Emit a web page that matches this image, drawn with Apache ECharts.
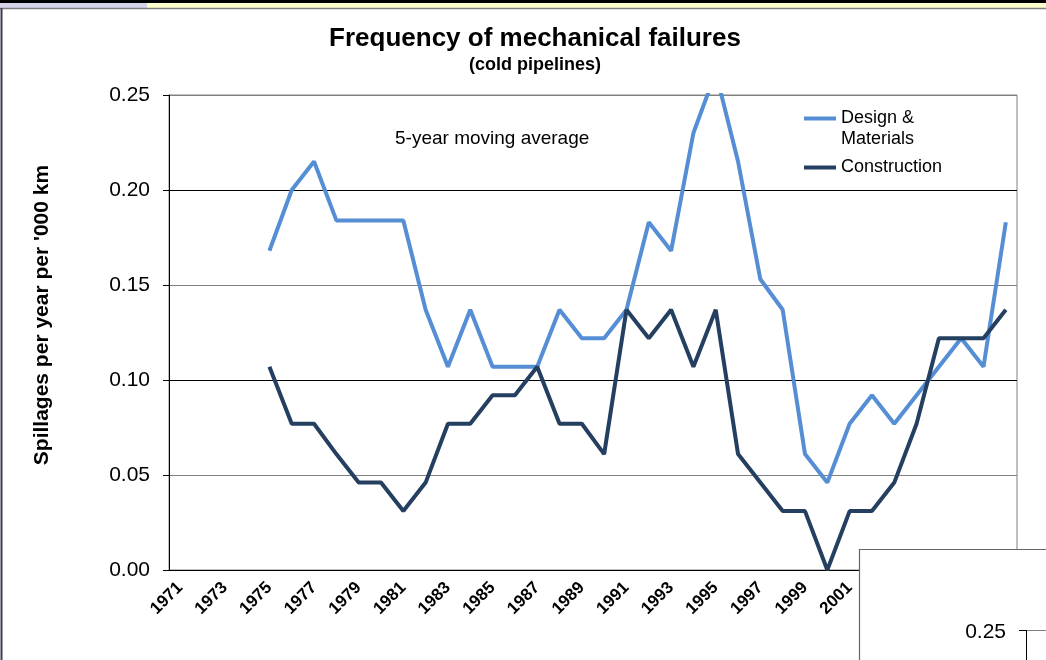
<!DOCTYPE html>
<html>
<head>
<meta charset="utf-8">
<title>Frequency of mechanical failures</title>
<script src="https://cdn.jsdelivr.net/npm/echarts@6/dist/echarts.min.js"></script>
<style>
  html, body { margin: 0; padding: 0; background: #fff; }
  #chart { width: 1046px; height: 660px; }
</style>
</head>
<body>
<div id="chart"></div>
<script>
// years on the x axis (1971 .. 2008)
var years = [];
for (var y = 1971; y <= 2008; y++) years.push(String(y));

// 5-year moving averages (null = no value yet)
var designMaterials = [
  null, null, null, null,
  0.168, 0.200, 0.215, 0.184, 0.184, 0.184, 0.184, 0.137, 0.107, 0.137,
  0.107, 0.107, 0.107, 0.137, 0.122, 0.122, 0.137, 0.183, 0.168, 0.230,
  0.262, 0.215, 0.153, 0.137, 0.061, 0.046, 0.077, 0.092, 0.077, 0.092,
  0.107, 0.122, 0.107, 0.183
];
var construction = [
  null, null, null, null,
  0.107, 0.077, 0.077, 0.061, 0.046, 0.046, 0.031, 0.046, 0.077, 0.077,
  0.092, 0.092, 0.107, 0.077, 0.077, 0.061, 0.137, 0.122, 0.137, 0.107,
  0.137, 0.061, 0.046, 0.031, 0.031, 0.000, 0.031, 0.031, 0.046, 0.077,
  0.122, 0.122, 0.122, 0.137
];
var yTicks = [0, 0.05, 0.10, 0.15, 0.20, 0.25];

var FONT = '"Liberation Sans", Arial, sans-serif';

var chart = echarts.init(document.getElementById('chart'));

chart.setOption({
  backgroundColor: '#fff',
  animation: false,
  title: {
    text: 'Frequency of mechanical failures',
    subtext: '(cold pipelines)',
    left: 530,
    textAlign: 'center',
    top: 21,
    itemGap: 4,
    textStyle: { fontFamily: FONT, fontSize: 26, fontWeight: 'bold', color: '#000' },
    subtextStyle: { fontFamily: FONT, fontSize: 18, fontWeight: 'bold', color: '#000' }
  },
  legend: {
    orient: 'vertical',
    left: 804,
    top: 87,
    padding: 0,
    itemWidth: 32,
    itemHeight: 4,
    itemGap: 7,
    icon: 'rect',
    selectedMode: false,
    textStyle: { fontFamily: FONT, fontSize: 18, color: '#000', lineHeight: 21 },
    formatter: function (name) {
      // leading empty line keeps the line symbol level with "Design &"
      return name === 'Design & Materials' ? '\nDesign &\nMaterials' : name;
    },
    data: ['Design & Materials', 'Construction']
  },
  grid: { left: 169, top: 95, right: 29, bottom: 90, show: true, borderColor: '#808080', borderWidth: 1 },
  xAxis: {
    type: 'category',
    data: years,
    boundaryGap: true,
    axisLine: { lineStyle: { color: '#000', width: 1 } },
    axisTick: { interval: 0, length: 5, lineStyle: { color: '#000' } },
    axisLabel: {
      interval: 1,
      rotate: 45,
      margin: 15,
      fontFamily: FONT,
      fontSize: 17,
      fontWeight: 'bold',
      color: '#000'
    },
    splitLine: { show: false }
  },
  yAxis: {
    type: 'value',
    min: yTicks[0],
    max: yTicks[yTicks.length - 1],
    interval: 0.05,
    axisLine: { show: true, lineStyle: { color: '#000', width: 1 } },
    axisTick: { show: true, length: 6, lineStyle: { color: '#000' } },
    axisLabel: {
      margin: 19,
      fontFamily: FONT,
      fontSize: 21,
      color: '#000',
      formatter: function (v) { return v.toFixed(2); }
    },
    splitLine: { show: true, lineStyle: { color: ['#000', '#808080'], width: 1 } }
  },
  series: [
    {
      name: 'Design & Materials',
      type: 'line',
      data: designMaterials,
      symbol: 'none',
      clip: true,
      color: '#558ed5',
      lineStyle: { width: 4, color: '#558ed5' },
      z: 3
    },
    {
      name: 'Construction',
      type: 'line',
      data: construction,
      symbol: 'none',
      clip: true,
      color: '#243f60',
      lineStyle: { width: 4, color: '#243f60' },
      z: 4
    }
  ],
  graphic: [
    {
      type: 'text',
      x: 42,
      y: 315,
      rotation: Math.PI / 2,
      style: {
        text: "Spillages per year per '000 km",
        fontFamily: FONT, fontSize: 21, fontWeight: 'bold', fill: '#000',
        align: 'center', verticalAlign: 'middle'
      }
    },
    {
      type: 'text',
      left: 395,
      top: 129,
      style: { text: '5-year moving average', fontFamily: FONT, fontSize: 19, fill: '#000' }
    },
    // window frame around the chart
    { type: 'rect', z: 100, shape: { x: 0, y: 0, width: 1046, height: 3 }, style: { fill: '#000' } },
    { type: 'rect', z: 100, shape: { x: 0, y: 3, width: 147, height: 5 }, style: { fill: '#d4d4ea' } },
    { type: 'rect', z: 100, shape: { x: 147, y: 3, width: 899, height: 5 }, style: { fill: '#ffffcc' } },
    { type: 'line', z: 100, shape: { x1: 0, y1: 8.5, x2: 1046, y2: 8.5 }, style: { stroke: '#808080', lineWidth: 1.5 } },
    { type: 'line', z: 100, shape: { x1: 1.5, y1: 8, x2: 1.5, y2: 660 }, style: { stroke: '#3c3c50', lineWidth: 2 } },
    // overlapping second chart box at bottom right
    { type: 'rect', z: 100, shape: { x: 859.5, y: 549.5, width: 200, height: 200 }, style: { fill: '#fff', stroke: '#666', lineWidth: 1.2 } },
    { type: 'text', z: 101, x: 1006, y: 632, style: { text: '0.25', fontFamily: FONT, fontSize: 21, fill: '#000', align: 'right', verticalAlign: 'middle' } },
    { type: 'line', z: 101, shape: { x1: 1019, y1: 630.5, x2: 1026, y2: 630.5 }, style: { stroke: '#000', lineWidth: 1 } },
    { type: 'line', z: 101, shape: { x1: 1026, y1: 630.5, x2: 1046, y2: 630.5 }, style: { stroke: '#808080', lineWidth: 1 } },
    { type: 'line', z: 101, shape: { x1: 1026.5, y1: 630, x2: 1026.5, y2: 660 }, style: { stroke: '#000', lineWidth: 1 } }
  ]
});
</script>
</body>
</html>
